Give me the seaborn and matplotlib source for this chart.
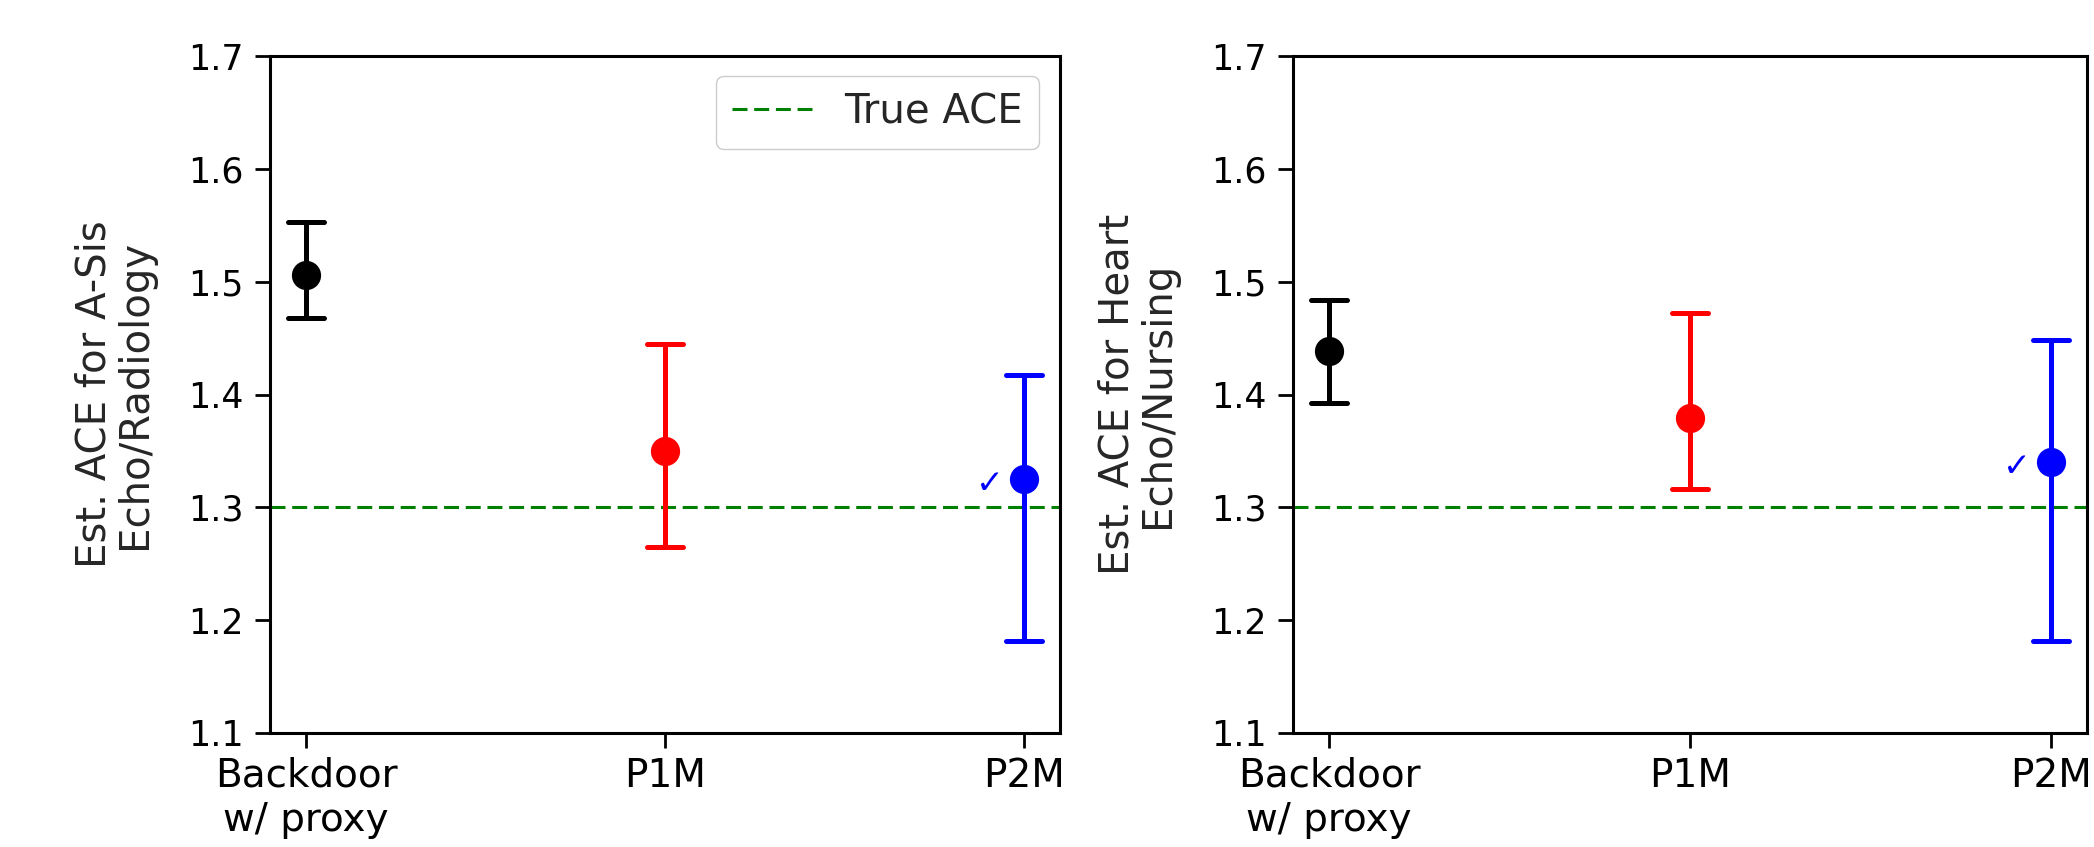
import numpy as np
import pandas as pd
import matplotlib
matplotlib.use('Agg')
import matplotlib.pyplot as plt
import seaborn as sns

# estimates with interval bounds
methods = ['Backdoor\nw/ proxy', 'P1M', 'P2M']
colors = ['black', 'red', 'blue']
true_ace = 1.3

est_left = [1.506, 1.350, 1.325]
lo_left = [1.468, 1.265, 1.182]
hi_left = [1.553, 1.445, 1.417]

est_right = [1.439, 1.379, 1.340]
lo_right = [1.393, 1.316, 1.182]
hi_right = [1.484, 1.472, 1.448]

ylabels = ['Est. ACE for A-Sis\nEcho/Radiology', 'Est. ACE for Heart\nEcho/Nursing']
yticks = [1.1, 1.2, 1.3, 1.4, 1.5, 1.6, 1.7]

sns.set_theme(style='ticks')
plt.rcParams['font.family'] = ['DejaVu Sans']
plt.rcParams['axes.linewidth'] = 2.2
plt.rcParams['xtick.major.width'] = 2.0
plt.rcParams['ytick.major.width'] = 2.0
plt.rcParams['xtick.major.size'] = 11
plt.rcParams['ytick.major.size'] = 11

fig = plt.figure(figsize=(20.94, 8.47), dpi=100)
ax_l = fig.add_axes([0.129, 0.1346, 0.377, 0.799])
ax_r = fig.add_axes([0.6175, 0.1346, 0.379, 0.799])

for ax, est, lo, hi, ylab in [(ax_l, est_left, lo_left, hi_left, ylabels[0]),
                              (ax_r, est_right, lo_right, hi_right, ylabels[1])]:
    # long table: lower bound, estimate, upper bound per method;
    # median -> estimate, 100% percentile interval -> bounds
    df = pd.DataFrame({
        'method': np.repeat(methods, 3),
        'value': np.ravel(np.column_stack([lo, est, hi])),
    })
    sns.pointplot(data=df, x='method', y='value', hue='method', order=methods,
                  hue_order=methods, palette=colors, estimator=np.median,
                  errorbar=('pi', 100), capsize=0.1, linestyle='none',
                  markersize=19, err_kws={'linewidth': 3.6}, legend=False, ax=ax)
    ax.axhline(true_ace, color='green', linestyle=(0, (4.9, 2.2)), linewidth=2.2,
               label='True ACE', zorder=1)
    ax.annotate('\u2713', xy=(2, est[2]), xytext=(-34, -4), textcoords='offset pixels',
                color='blue', fontsize=24, ha='center', va='center')
    ax.set_xlim(-0.1, 2.1)
    ax.set_ylim(1.1, 1.7)
    ax.set_yticks(yticks)
    ax.set_xlabel('')
    ax.set_ylabel(ylab, fontsize=29, labelpad=24, linespacing=1.0)
    ax.tick_params(axis='y', labelsize=25, colors='black', pad=8)
    ax.tick_params(axis='x', labelsize=28, colors='black', pad=6)
    for s in ax.spines.values():
        s.set_color('black')

ax_l.legend(loc='upper right', fontsize=29, handlelength=2.0, borderpad=0.4,
            framealpha=1.0, borderaxespad=0.5)

fig.savefig('out.png', dpi=100)
